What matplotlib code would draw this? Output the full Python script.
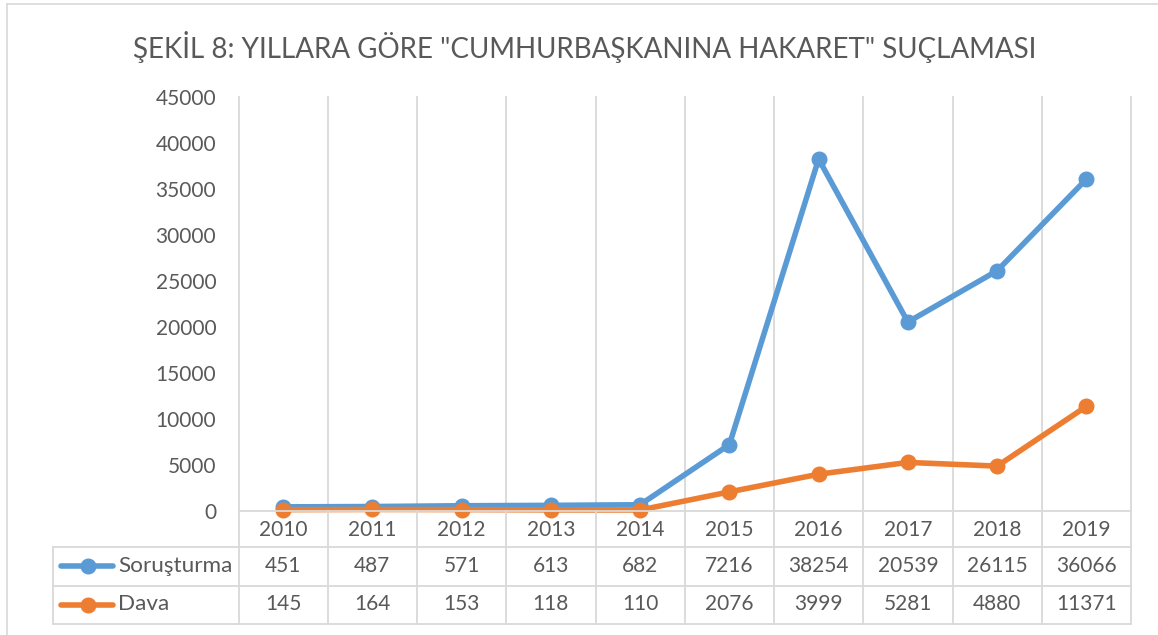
import matplotlib
matplotlib.use("Agg")
import matplotlib.pyplot as plt
from matplotlib.lines import Line2D

years = ["2010", "2011", "2012", "2013", "2014", "2015", "2016", "2017", "2018", "2019"]
sorusturma = [451, 487, 571, 613, 682, 7216, 38254, 20539, 26115, 36066]
dava = [145, 164, 153, 118, 110, 2076, 3999, 5281, 4880, 11371]
series_names = ["Soruşturma", "Dava"]
yticks = [0, 5000, 10000, 15000, 20000, 25000, 30000, 35000, 40000, 45000]
title = 'ŞEKİL 8: YILLARA GÖRE "CUMHURBAŞKANINA HAKARET" SUÇLAMASI'

W, H = 1158, 635
BLUE = "#5B9BD5"
ORANGE = "#ED7D31"
TXT = "#595959"
GRID = "#D9D9D9"
FONT = "Lato"
plt.rcParams["font.family"] = [FONT, "DejaVu Sans"]

fig = plt.figure(figsize=(W / 100, H / 100), dpi=100)

def fx(px):
    return px / W

def fy(py):
    return 1 - py / H

# plot area in pixels
L, R, T, B = 238.5, 1131, 97, 511
ax = fig.add_axes([fx(L), fy(B), fx(R) - fx(L), fy(T) - fy(B)])
n = len(years)
ax.set_xlim(-0.5, n - 0.5)
ax.set_ylim(0, 45000)
for s in ax.spines.values():
    s.set_visible(False)
ax.set_xticks([])
ax.set_yticks(yticks)
ax.set_yticklabels([str(v) for v in yticks])
ax.tick_params(axis="y", length=0, pad=16, labelsize=15, labelcolor=TXT)

# vertical gridlines (category boundaries)
for k in range(n + 1):
    xpos = -0.5 + k
    ax.plot([xpos, xpos], [0, 45000], color=GRID, lw=1.3, zorder=1, clip_on=False)

colors = [BLUE, ORANGE]
for vals, c in zip([sorusturma, dava], colors):
    ax.plot(range(n), vals, color=c, lw=4, marker="o", markersize=10.5,
            markerfacecolor=c, markeredgecolor=c, zorder=3, clip_on=False,
            solid_capstyle="round", solid_joinstyle="round")

# data table drawn in figure pixel coords
def hline(y, x0, x1):
    fig.add_artist(Line2D([fx(x0), fx(x1)], [fy(y), fy(y)], color=GRID, lw=1.3))

def vline(x, y0, y1):
    fig.add_artist(Line2D([fx(x), fx(x)], [fy(y0), fy(y1)], color=GRID, lw=1.3))

TL = 53
rows_y = [511, 547, 585.5, 623.5]
hline(511, L, R)
for y in rows_y[1:]:
    hline(y, TL, R)
vline(TL, rows_y[1], rows_y[3])
cw = (R - L) / n
for k in range(n + 1):
    vline(L + k * cw, 511, rows_y[3])

fs = 15
for i, yr in enumerate(years):
    cx = L + (i + 0.5) * cw
    fig.text(fx(cx), fy(530), yr, ha="center", va="center", fontsize=fs, color=TXT)
for r, (vals, c, name) in enumerate(zip([sorusturma, dava], colors, series_names)):
    cy = (rows_y[r + 1] + rows_y[r + 2]) / 2
    for i, v in enumerate(vals):
        cx = L + (i + 0.5) * cw
        fig.text(fx(cx), fy(cy), str(v), ha="center", va="center", fontsize=fs, color=TXT)
    fig.add_artist(Line2D([fx(61), fx(113)], [fy(cy), fy(cy)], color=c, lw=4,
                          solid_capstyle="round"))
    fig.add_artist(Line2D([fx(87.5)], [fy(cy)], color=c, marker="o", markersize=10.5,
                          markerfacecolor=c, markeredgecolor=c))
    fig.text(fx(118), fy(cy), name, ha="left", va="center", fontsize=16.2, color=TXT)

# chart border (top/left visible)
fig.add_artist(Line2D([fx(7), fx(7)], [fy(4), fy(H)], color=GRID, lw=1.2))
fig.add_artist(Line2D([fx(7), fx(W)], [fy(4), fy(4)], color=GRID, lw=1.2))

fig.text(fx(585), fy(47), title, ha="center", va="center", fontsize=20, color=TXT)

fig.savefig("out.png", dpi=100)
